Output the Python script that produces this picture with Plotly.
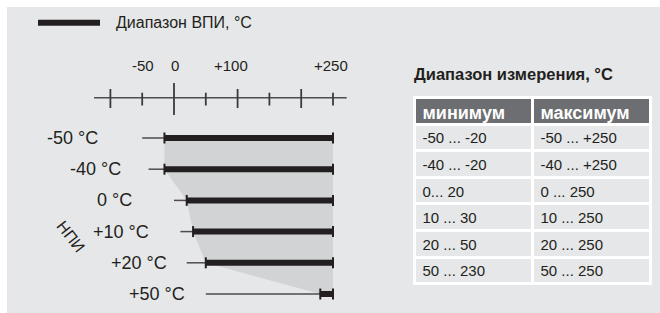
import plotly.graph_objects as go

# ---------------- data ----------------
row_labels = ["-50 °C", "-40 °C", "0 °C", "+10 °C", "+20 °C", "+50 °C"]
npi_values = [-50, -40, 0, 10, 20, 50]          # lower limit (thin line start)
vpi_start = [-15, -15, 20, 30, 50, 230]          # start of upper-limit range (thick bar)
vpi_end = [250, 250, 250, 250, 250, 250]         # end of upper-limit range

axis_ticks = [-100, -50, 0, 50, 100, 150, 200, 250]
axis_label_vals = [-50, 0, 100, 250]
axis_label_text = ["-50", "0", "+100", "+250"]

legend_text = "Диапазон ВПИ, °C"
side_label = "НПИ"

table_title = "Диапазон измерения, °C"
table_header = ["минимум", "максимум"]
col_min = ["-50 ... -20", "-40 ... -20", "0... 20", "10 ... 30", "20 ... 50", "50 ... 230"]
col_max = ["-50 ... +250", "-40 ... +250", "0 ... 250", "10 ... 250", "20 ... 250", "50 ... 250"]

# ---------------- style / layout ----------------
W, H = 660, 313
BG = "#e6e7e8"
FILL = "#d1d3d4"
DARK = "#231f20"
GREY_LINE = "#4d4d4f"
HEAD = "#6d6e71"
FONT = "Liberation Sans, Arial, sans-serif"

# pixel mapping for the data axes (value -> px): px = X0 + XS * v
X0, XS = 174.0, 0.636
Y0, YS = 138.0, 31.2   # row index -> px
def yrow(py):
    return (py - Y0) / YS

x_range = [(0 - X0) / XS, (W - X0) / XS]
y_range = [yrow(H), yrow(0)]

def px(x):
    return x / W
def py(y):
    return 1 - y / H

fig = go.Figure()

n = len(row_labels)
rows = list(range(n))

# shaded polygon behind the bars
poly_x = list(vpi_start) + [vpi_end[-1], vpi_end[0]] + [vpi_start[0]]
poly_y = rows + [rows[-1], rows[0]] + [rows[0]]
fig.add_trace(go.Scatter(x=poly_x, y=poly_y, mode="lines", fill="toself",
                         fillcolor=FILL, line=dict(width=0, color=FILL),
                         hoverinfo="skip", showlegend=False))

# thin lines from NPI to start of VPI range
tx, ty = [], []
for i in rows:
    tx += [npi_values[i], vpi_start[i], None]
    ty += [i, i, None]
fig.add_trace(go.Scatter(x=tx, y=ty, mode="lines", line=dict(color=GREY_LINE, width=1.5),
                         hoverinfo="skip", showlegend=False))

# thick bars
bx, by = [], []
for i in rows:
    bx += [vpi_start[i], vpi_end[i], None]
    by += [i, i, None]
fig.add_trace(go.Scatter(x=bx, y=by, mode="lines", line=dict(color=DARK, width=6),
                         hoverinfo="skip", showlegend=False))

# end ticks on bars
ex, ey = [], []
h = 5.5 / YS
for i in rows:
    for v in (vpi_start[i], vpi_end[i]):
        ex += [v, v, None]
        ey += [i - h, i + h, None]
fig.add_trace(go.Scatter(x=ex, y=ey, mode="lines", line=dict(color=DARK, width=2),
                         hoverinfo="skip", showlegend=False))

# top scale axis
ax_y = yrow(97.7)
fig.add_trace(go.Scatter(x=[(94 - X0) / XS, (346.7 - X0) / XS], y=[ax_y, ax_y], mode="lines",
                         line=dict(color=GREY_LINE, width=1.6), hoverinfo="skip", showlegend=False))
kx, ky = [], []
for v in axis_ticks:
    if v == 0:
        top, bot = yrow(83), yrow(115)
    elif v % 100 == 0:
        top, bot = yrow(89), yrow(108)
    else:
        top, bot = yrow(92.7), yrow(105.5)
    kx += [v, v, None]
    ky += [top, bot, None]
fig.add_trace(go.Scatter(x=kx, y=ky, mode="lines", line=dict(color="#3a3a3c", width=1.8),
                         hoverinfo="skip", showlegend=False))

annotations = []
label_shift = [1, 1, -7, -2.5]
for v, t, s in zip(axis_label_vals, axis_label_text, label_shift):
    annotations.append(dict(x=v, y=yrow(65), xref="x", yref="y", text=t, showarrow=False,
                            xanchor="center", yanchor="middle", xshift=s,
                            font=dict(family=FONT, size=15, color=DARK)))

# row labels (right edge in px)
label_right_px = [100, 123, 134, 151, 169, 187]
for i in rows:
    annotations.append(dict(x=px(label_right_px[i]), y=i, xref="paper", yref="y",
                            text=row_labels[i], showarrow=False, xanchor="right",
                            yanchor="middle",
                            font=dict(family=FONT, size=18, color=DARK)))

# NPI rotated label
annotations.append(dict(x=px(71), y=py(236), xref="paper", yref="paper", text=side_label,
                        showarrow=False, textangle=52, xanchor="center", yanchor="middle",
                        font=dict(family=FONT, size=16, color=DARK)))

# legend
annotations.append(dict(x=px(114), y=py(23), xref="paper", yref="paper", text=legend_text,
                        showarrow=False, xanchor="left", yanchor="middle",
                        font=dict(family=FONT, size=16, color=DARK)))

# table title
annotations.append(dict(x=px(412), y=py(74), xref="paper", yref="paper", text=table_title,
                        showarrow=False, xanchor="left", yanchor="middle",
                        font=dict(family=FONT, size=16.5, color=DARK, weight="bold")))

shapes = [
    dict(type="rect", xref="paper", yref="paper", x0=px(7), x1=1, y0=0, y1=py(7),
         fillcolor=BG, line=dict(width=0), layer="below"),
    dict(type="line", xref="paper", yref="paper", x0=px(38), x1=px(100), y0=py(22.7), y1=py(22.7),
         line=dict(color=DARK, width=6)),
]

# table
cell_h = 26.6
top = 97.5
fig.add_trace(go.Table(
    domain=dict(x=[px(414.5), px(651.5)], y=[py(top + cell_h * 7 + 2), py(top)]),
    columnwidth=[1, 1],
    header=dict(values=table_header, fill_color=HEAD, align="left", height=cell_h,
                line=dict(color="white", width=3),
                font=dict(family=FONT, size=18, color="white", weight="bold")),
    cells=dict(values=[col_min, col_max], fill_color=BG, align="left", height=cell_h,
               line=dict(color="white", width=3),
               font=dict(family=FONT, size=15, color=DARK)),
))

fig.update_layout(
    width=W, height=H, margin=dict(l=0, r=0, t=0, b=0),
    paper_bgcolor="white", plot_bgcolor="rgba(0,0,0,0)",
    xaxis=dict(range=x_range, visible=False, fixedrange=True, domain=[0, 1]),
    yaxis=dict(range=y_range, visible=False, fixedrange=True, domain=[0, 1]),
    annotations=annotations, shapes=shapes, showlegend=False,
)

fig.write_html("out.html", config={"displayModeBar": False},
               post_script="document.body.style.margin='0';document.body.style.padding='0';")
